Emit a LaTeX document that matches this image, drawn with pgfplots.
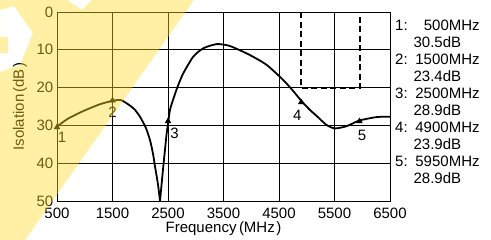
\documentclass[border=0pt]{standalone}
\usepackage{fontspec}
\setmainfont{Liberation Sans}
\usepackage{pgfplots}
\pgfplotsset{compat=1.18}
\begin{document}
\fontsize{15}{17}\selectfont
\begin{tikzpicture}
\path[use as bounding box] (0pt,0pt) rectangle (491pt,240pt);
\begin{axis}[
  at={(57pt,39pt)}, anchor=south west,
  scale only axis, width=333pt, height=189pt,
  xmin=500, xmax=6500, ymin=0, ymax=50, y dir=reverse,
  xtick={500,1500,...,6500}, ytick={0,10,...,50},
  grid=major, major grid style={black, line width=0.8pt},
  axis line style={black, line width=0.9pt},
  major tick length=0pt,
  ticklabel style={font=\fontsize{15}{16}\selectfont},
  xticklabel style={inner sep=0pt, yshift=-7pt},
  yticklabel style={inner sep=3.5pt},
  /pgf/number format/assume math mode=true,
  /pgf/number format/set thousands separator={},
  xlabel={Frequency\hspace{2.5pt}(MHz\hspace{1.5pt})},
  ylabel={Isolation\hspace{2pt}(dB\hspace{1.5pt})},
  label style={font=\fontsize{15}{16}\selectfont},
  xlabel style={inner sep=0pt, yshift=-3pt},
  ylabel style={at={(rel axis cs:0,0.5)}, anchor=center, yshift=37pt},
  clip=false,
]
\addplot[black, line width=1.8pt, smooth, tension=0.4] coordinates {
(500,30.3) (700,28.2) (974,26.2) (1275,24.4) (1500,23.5) (1650,23.3)
(1800,24.6) (1900,25.8) (1995,27.7) (2100,30.6) (2176,33.9) (2230,37.5) (2266,40.9)
(2300,43.8) (2325,46.2) (2356,50)
};
\addplot[black, line width=1.8pt, smooth, tension=0.4] coordinates {
(2356,50) (2385,45.5) (2415,40.9) (2450,35.8) (2476,32.1) (2506,29.0) (2536,25.9)
(2596,23.0) (2680,19.5) (2776,16.2) (2956,11.8) (3136,9.6) (3377,8.5) (3617,9.0)
(3977,11.4) (4278,14.0) (4577,18.0) (4750,20.8) (4908,23.6) (5050,25.8) (5178,27.5)
(5358,29.9) (5509,30.8) (5719,30.2) (5950,28.7) (6259,27.8) (6500,27.7)
};
\addplot[black, line width=1.8pt, dash pattern=on 6pt off 3.5pt] coordinates {
(4900,0) (4900,20) (5960,20) (5960,0)
};
\addplot[black, only marks, mark=triangle*, mark size=3.3pt] coordinates {
(500,30.5) (1500,23.4) (2500,28.9) (4900,23.9) (5950,28.9)
};
\node[xshift=5pt, yshift=-9.7pt] at (axis cs:500,30.5) {1};
\node[xshift=0pt, yshift=-11.5pt] at (axis cs:1500,23.4) {2};
\node[xshift=6.5pt, yshift=-12pt] at (axis cs:2500,28.9) {3};
\node[xshift=-4pt, yshift=-12.7pt] at (axis cs:4900,23.9) {4};
\node[xshift=2.5pt, yshift=-14pt] at (axis cs:5950,28.9) {5};
\end{axis}
\node[anchor=north west, inner sep=0pt, align=left,
      font=\fontsize{15}{17}\selectfont] at (395pt,220pt) {%
1:\hspace*{16.2pt}500MHz\\\hspace*{18.4pt}30.5dB\\
2:\hspace*{7.7pt}1500MHz\\\hspace*{18.4pt}23.4dB\\
3:\hspace*{7.7pt}2500MHz\\\hspace*{18.4pt}28.9dB\\
4:\hspace*{7.7pt}4900MHz\\\hspace*{18.4pt}23.9dB\\
5:\hspace*{7.7pt}5950MHz\\\hspace*{18.4pt}28.9dB};
\fill[color={rgb,255:red,255;green,220;blue,40}, opacity=0.42, even odd rule]
  (0pt,240pt) -- (67pt,240pt) -- (82pt,230pt) -- (92pt,240pt) -- (194pt,240pt)
  -- (25pt,0pt) -- (0pt,0pt) -- cycle
  (0pt,230pt) -- (14pt,234pt) -- (33pt,207pt) -- (20pt,175pt) -- (0pt,168pt) -- cycle
  (0pt,203pt) -- (8pt,203pt) -- (8pt,187pt) -- (0pt,187pt) -- cycle;
\end{tikzpicture}
\end{document}
